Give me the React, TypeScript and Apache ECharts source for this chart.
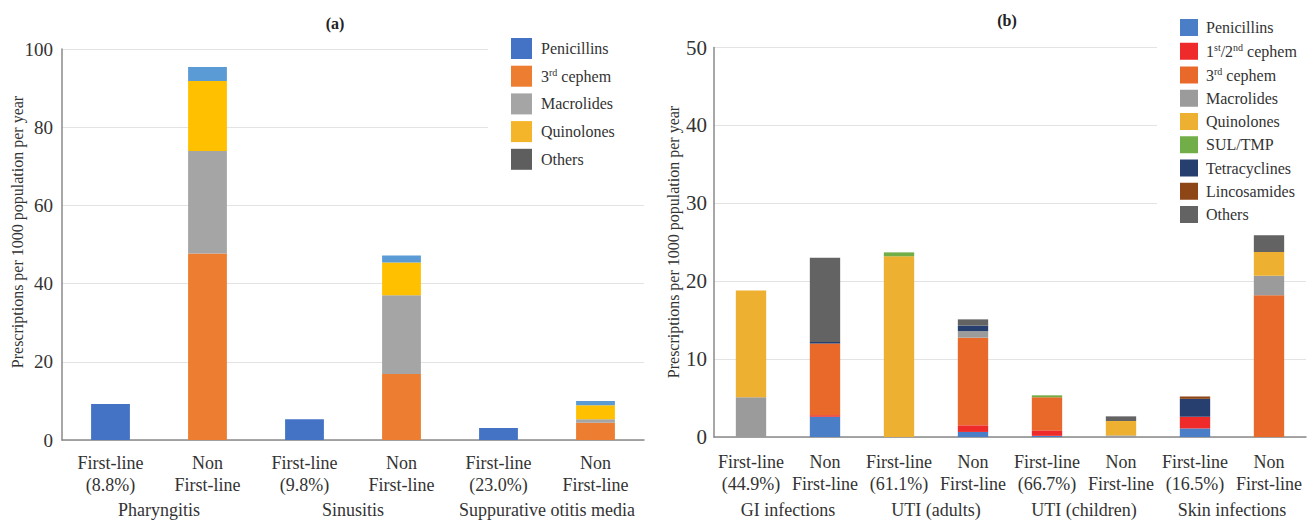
import React, { useEffect, useRef } from "react";
import * as echarts from "echarts";

// Panel (a): upper respiratory infections
const catsA = ["First-line\n(8.8%)", "Non\nFirst-line", "First-line\n(9.8%)", "Non\nFirst-line", "First-line\n(23.0%)", "Non\nFirst-line"];
const groupsA = ["Pharyngitis", "Sinusitis", "Suppurative otitis media"];
const penicillinsA = [9.2, 0, 5.3, 0, 3.1, 0];
const cephem3A = [0, 47.7, 0, 16.9, 0, 4.4];
const macrolidesA = [0, 26.2, 0, 20.1, 0, 0.9];
const quinolonesA = [0, 17.9, 0, 8.4, 0, 3.6];
const othersA = [0, 3.6, 0, 1.8, 0, 1.1];

// Panel (b): GI, UTI and skin infections
const catsB = ["First-line\n(44.9%)", "Non\nFirst-line", "First-line\n(61.1%)", "Non\nFirst-line", "First-line\n(66.7%)", "Non\nFirst-line", "First-line\n(16.5%)", "Non\nFirst-line"];
const groupsB = ["GI infections", "UTI (adults)", "UTI (children)", "Skin infections"];
const penicillinsB = [0, 2.6, 0, 0.65, 0.15, 0, 1.1, 0];
const cephem12B = [0, 0.2, 0, 0.85, 0.7, 0, 1.5, 0];
const cephem3B = [0, 9.2, 0, 11.25, 4.25, 0, 0, 18.2];
const macrolidesB = [5.1, 0, 0, 0.85, 0, 0.2, 0, 2.5];
const quinolonesB = [13.7, 0, 23.2, 0, 0, 1.85, 0, 3.05];
const sulTmpB = [0, 0, 0.5, 0, 0.25, 0, 0, 0];
const tetracyclinesB = [0, 0.2, 0, 0.7, 0, 0, 2.3, 0];
const lincosamidesB = [0, 0, 0, 0, 0, 0, 0.3, 0];
const othersB = [0, 10.8, 0, 0.8, 0, 0.6, 0, 2.15];

const yTitle = "Prescriptions per 1000 population per year";
const FONT = "'Liberation Serif', 'Times New Roman', serif";
const TXT = "#333333";

const seriesA = [
  { name: "Penicillins", data: penicillinsA, color: "#4472C4", legendColor: "#4472C4" },
  { name: "3rd cephem", data: cephem3A, color: "#ED7D31", legendColor: "#ED7D31" },
  { name: "Macrolides", data: macrolidesA, color: "#A5A5A5", legendColor: "#A5A5A5" },
  { name: "Quinolones", data: quinolonesA, color: "#FFC000", legendColor: "#F5B52A" },
  { name: "Others", data: othersA, color: "#5B9BD5", legendColor: "#5E5E5E" },
];

const seriesB = [
  { name: "Penicillins", data: penicillinsB, color: "#4A7EC6" },
  { name: "1st/2nd cephem", data: cephem12B, color: "#EE2A2A" },
  { name: "3rd cephem", data: cephem3B, color: "#E8692A" },
  { name: "Macrolides", data: macrolidesB, color: "#9B9B9B" },
  { name: "Quinolones", data: quinolonesB, color: "#EEB030" },
  { name: "SUL/TMP", data: sulTmpB, color: "#72AE48" },
  { name: "Tetracyclines", data: tetracyclinesB, color: "#263F6E" },
  { name: "Lincosamides", data: lincosamidesB, color: "#8E4616" },
  { name: "Others", data: othersB, color: "#636363" },
];

const legendFormatter = (name: string) => {
  if (name === "3rd cephem") return "3{sup|rd} cephem";
  if (name === "1st/2nd cephem") return "1{sup|st}/2{sup|nd} cephem";
  return name;
};

const richSup = {
  sup: { fontSize: 10, fontFamily: FONT, color: TXT, verticalAlign: "top", padding: [0, 0, 8, 0] },
};

export default function App() {
  const ref = useRef<HTMLDivElement>(null);

  useEffect(() => {
    if (!ref.current) return;
    const chart = echarts.init(ref.current, null, { renderer: "svg" });

    const axisLineStyle = { color: "#8A8A8A", width: 1.5 };
    const splitLineStyle = { color: "#E3E3E3", width: 1.2 };

    const option: any = {
      animation: false,
      backgroundColor: "#ffffff",
      textStyle: { fontFamily: FONT },
      grid: [
        { left: 62, top: 49, width: 582, height: 391 },
        { left: 714, top: 47.5, width: 592, height: 389.5 },
      ],
      xAxis: [
        {
          type: "category", gridIndex: 0, data: catsA,
          axisLine: { lineStyle: axisLineStyle }, axisTick: { show: false },
          axisLabel: { interval: 0, margin: 12, fontSize: 18, lineHeight: 22, color: TXT, fontFamily: FONT },
        },
        {
          type: "category", gridIndex: 0, data: groupsA, position: "bottom", offset: 52,
          axisLine: { show: false }, axisTick: { show: false },
          axisLabel: { interval: 0, margin: 7, fontSize: 18, lineHeight: 22, color: TXT, fontFamily: FONT },
        },
        {
          type: "category", gridIndex: 1, data: catsB,
          axisLine: { lineStyle: axisLineStyle }, axisTick: { show: false },
          axisLabel: { interval: 0, margin: 14, fontSize: 18, lineHeight: 22, color: TXT, fontFamily: FONT },
        },
        {
          type: "category", gridIndex: 1, data: groupsB, position: "bottom", offset: 55,
          axisLine: { show: false }, axisTick: { show: false },
          axisLabel: { interval: 0, margin: 7, fontSize: 18, lineHeight: 22, color: TXT, fontFamily: FONT },
        },
      ],
      yAxis: [
        {
          type: "value", gridIndex: 0, min: 0, max: 100, interval: 20,
          axisLine: { show: true, lineStyle: axisLineStyle }, axisTick: { show: false },
          splitLine: { lineStyle: splitLineStyle },
          axisLabel: { margin: 9, fontSize: 19, color: TXT, fontFamily: FONT },
        },
        {
          type: "value", gridIndex: 1, min: 0, max: 50, interval: 10,
          axisLine: { show: true, lineStyle: axisLineStyle }, axisTick: { show: false },
          splitLine: { lineStyle: splitLineStyle },
          axisLabel: { margin: 7, fontSize: 21, color: TXT, fontFamily: FONT },
        },
      ],
      legend: [
        {
          orient: "vertical", left: 506, top: 33, itemWidth: 21, itemHeight: 21, itemGap: 6.7,
          icon: "rect", z: 10, selectedMode: false,
          data: seriesA.map((s) => ({ name: s.name, itemStyle: { color: s.legendColor } })),
          formatter: legendFormatter,
          textStyle: { fontSize: 16, color: TXT, fontFamily: FONT, padding: [0, 0, 0, 4], rich: richSup },
        },
        {
          orient: "vertical", left: 1175, top: 14, itemWidth: 18, itemHeight: 17, itemGap: 6.25,
          icon: "rect", z: 10, selectedMode: false,
          data: seriesB.map((s) => ({ name: s.name, itemStyle: { color: s.color } })),
          formatter: legendFormatter,
          textStyle: { fontSize: 16, color: TXT, fontFamily: FONT, padding: [0, 0, 0, 3], rich: richSup },
        },
      ],
      graphic: [
        // white boxes behind the legends, hiding the gridlines there
        { type: "rect", z: 3, shape: { x: 488, y: 28, width: 170, height: 150 }, style: { fill: "#ffffff" } },
        { type: "rect", z: 3, shape: { x: 1157, y: 0, width: 157, height: 226 }, style: { fill: "#ffffff" } },
        {
          type: "text", z: 5, x: 335, y: 23,
          style: { text: "(a)", fontSize: 16, fontWeight: "bold", fontFamily: FONT, fill: "#222", align: "center", verticalAlign: "middle" },
        },
        {
          type: "text", z: 5, x: 1007, y: 20,
          style: { text: "(b)", fontSize: 16, fontWeight: "bold", fontFamily: FONT, fill: "#222", align: "center", verticalAlign: "middle" },
        },
        {
          type: "text", z: 5, x: 17, y: 232, rotation: Math.PI / 2,
          style: { text: yTitle, fontSize: 16, fontFamily: FONT, fill: TXT, align: "center", verticalAlign: "middle" },
        },
        {
          type: "text", z: 5, x: 673, y: 242, rotation: Math.PI / 2,
          style: { text: yTitle, fontSize: 16, fontFamily: FONT, fill: TXT, align: "center", verticalAlign: "middle" },
        },
      ],
      series: [
        ...seriesA.map((s) => ({
          name: s.name, type: "bar", stack: "a", xAxisIndex: 0, yAxisIndex: 0,
          barWidth: "40%", data: s.data, itemStyle: { color: s.color },
        })),
        ...seriesB.map((s) => ({
          name: s.name, type: "bar", stack: "b", xAxisIndex: 2, yAxisIndex: 1,
          barWidth: "41%", data: s.data, itemStyle: { color: s.color },
        })),
      ],
    };

    chart.setOption(option);
    return () => chart.dispose();
  }, []);

  return (
    <div
      ref={ref}
      style={{ position: "absolute", left: 0, top: 0, width: 1314, height: 523, background: "#fff" }}
    />
  );
}
